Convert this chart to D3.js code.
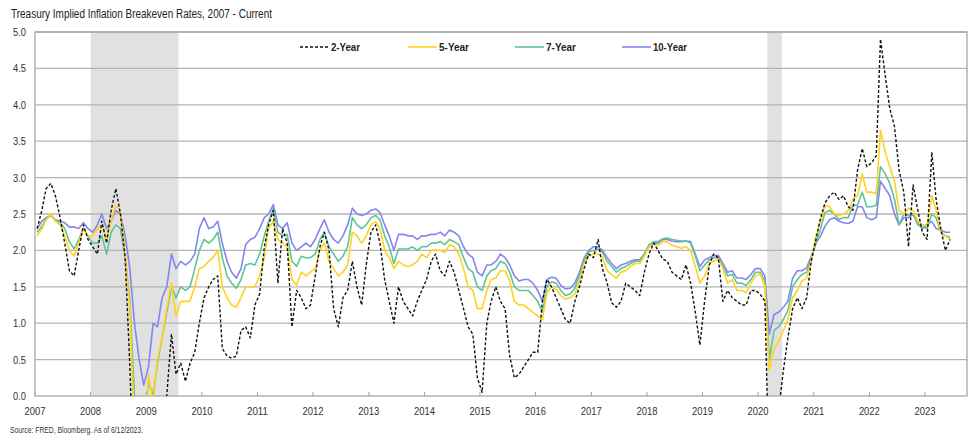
<!DOCTYPE html>
<html>
<head>
<meta charset="utf-8">
<script src="https://cdn.jsdelivr.net/npm/d3@7"></script>
<style>
  body { margin: 0; background: #fff; }
  svg { display: block; font-family: 'Liberation Sans', Arial, sans-serif; }
</style>
</head>
<body>
<div id="chart"></div>
<script>
// monthly values, Jan 2007 - Jun 2023 (one row per year)
const twoYear = [
  2.30, 2.55, 2.85, 2.92, 2.75, 2.45, 2.10, 1.72, 1.65, 2.00, 2.35, 2.15,
  2.05, 1.95, 2.40, 2.10, 2.55, 2.85, 2.50, 1.90, 0.40, -1.50, -3.00, -2.50,
  -2.50, -1.50, -0.80, -0.50, 0.00, 0.85, 0.30, 0.45, 0.20, 0.45, 0.60, 1.00,
  1.35, 1.50, 1.60, 1.65, 0.65, 0.55, 0.52, 0.55, 0.90, 0.95, 0.80, 1.25,
  1.40, 2.05, 2.35, 2.55, 1.55, 2.30, 2.10, 0.95, 1.45, 1.35, 1.20, 1.25,
  1.65, 2.05, 2.25, 2.00, 1.20, 0.95, 1.35, 1.45, 1.85, 1.50, 1.25, 1.80,
  2.25, 2.35, 2.10, 1.60, 1.30, 1.00, 1.50, 1.30, 1.20, 1.10, 1.30, 1.45,
  1.60, 1.85, 1.95, 1.72, 1.65, 1.85, 1.70, 1.45, 1.20, 0.95, 0.85, 0.25,
  0.05, 1.00, 1.30, 1.50, 1.30, 1.20, 0.55, 0.25, 0.30, 0.40, 0.50, 0.60,
  0.60, 1.30, 1.60, 1.50, 1.35, 1.20, 1.05, 1.00, 1.30, 1.50, 1.75, 1.95,
  1.90, 2.15, 1.75, 1.55, 1.28, 1.22, 1.30, 1.55, 1.50, 1.45, 1.38, 1.70,
  1.95, 2.10, 2.00, 1.88, 1.85, 1.70, 1.65, 1.60, 1.80, 1.55, 1.15, 0.70,
  1.30, 1.80, 1.95, 1.90, 1.30, 1.45, 1.35, 1.30, 1.25, 1.25, 1.45, 1.45,
  1.40, 1.30, -1.20, -1.00, -0.20, 0.35, 0.80, 1.20, 1.35, 1.20, 1.35, 1.85,
  2.15, 2.45, 2.65, 2.75, 2.80, 2.70, 2.75, 2.60, 2.55, 3.10, 3.40, 3.15,
  3.20, 3.30, 4.90, 4.40, 3.95, 3.70, 3.10, 2.80, 2.05, 2.90, 2.55, 2.25,
  2.15, 3.35, 2.70, 2.30, 2.00, 2.15
];
const fiveYear = [
  2.20, 2.30, 2.42, 2.50, 2.40, 2.35, 2.20, 2.00, 1.92, 2.10, 2.30, 2.20,
  2.20, 2.30, 2.35, 2.15, 2.40, 2.62, 2.55, 1.95, 1.20, -0.50, -1.50, -1.00,
  0.30, -0.10, 0.50, 0.80, 1.20, 1.55, 1.10, 1.30, 1.30, 1.30, 1.50, 1.75,
  1.78, 1.85, 1.90, 2.00, 1.50, 1.35, 1.25, 1.22, 1.35, 1.50, 1.50, 1.50,
  1.65, 1.90, 2.30, 2.40, 2.15, 2.10, 2.05, 1.60, 1.52, 1.70, 1.65, 1.70,
  1.75, 2.00, 2.10, 1.85, 1.75, 1.65, 1.70, 1.80, 2.25, 2.20, 2.10, 2.20,
  2.35, 2.40, 2.30, 2.00, 1.90, 1.75, 1.85, 1.80, 1.78, 1.80, 1.85, 1.95,
  1.90, 2.00, 2.00, 2.00, 1.97, 2.08, 2.05, 1.95, 1.75, 1.50, 1.45, 1.20,
  1.20, 1.45, 1.60, 1.62, 1.72, 1.72, 1.58, 1.30, 1.25, 1.25, 1.20, 1.15,
  1.10, 1.05, 1.42, 1.50, 1.47, 1.38, 1.33, 1.35, 1.40, 1.57, 1.82, 1.93,
  1.95, 1.95, 1.90, 1.72, 1.67, 1.62, 1.70, 1.72, 1.78, 1.82, 1.82, 1.92,
  2.05, 2.08, 2.07, 2.12, 2.12, 2.07, 2.05, 2.03, 2.05, 2.00, 1.78, 1.55,
  1.65, 1.82, 1.85, 1.88, 1.75, 1.55, 1.60, 1.45, 1.45, 1.42, 1.55, 1.65,
  1.68, 1.50, 0.35, 0.65, 0.75, 0.90, 1.05, 1.35, 1.45, 1.58, 1.62, 1.85,
  2.20, 2.40, 2.62, 2.60, 2.50, 2.48, 2.50, 2.55, 2.70, 2.75, 3.05, 2.80,
  2.80, 2.78, 3.65, 3.35, 3.15, 2.95, 2.55, 2.50, 2.58, 2.55, 2.40, 2.35,
  2.35, 2.75, 2.55, 2.25, 2.20, 2.15
];
const sevenYear = [
  2.25, 2.33, 2.43, 2.48, 2.42, 2.38, 2.30, 2.12, 2.02, 2.15, 2.30, 2.20,
  2.10, 2.10, 2.20, 1.95, 2.25, 2.35, 2.30, 1.90, 1.30, 0.00, -0.80, -0.50,
  0.20, 0.00, 0.45, 0.80, 1.15, 1.50, 1.35, 1.50, 1.45, 1.50, 1.75, 2.00,
  2.15, 2.10, 2.15, 2.25, 1.90, 1.65, 1.55, 1.48, 1.60, 1.80, 1.82, 1.80,
  1.95, 2.20, 2.40, 2.58, 2.25, 2.20, 2.22, 1.85, 1.78, 1.92, 1.90, 1.90,
  1.95, 2.15, 2.25, 2.05, 1.95, 1.85, 1.92, 2.05, 2.45, 2.35, 2.30, 2.35,
  2.45, 2.48, 2.42, 2.20, 2.05, 1.82, 2.02, 2.02, 2.02, 2.05, 2.00, 2.05,
  2.05, 2.10, 2.10, 2.12, 2.08, 2.15, 2.12, 2.08, 1.90, 1.75, 1.70, 1.50,
  1.45, 1.65, 1.72, 1.75, 1.85, 1.82, 1.70, 1.50, 1.45, 1.45, 1.45, 1.38,
  1.30, 1.15, 1.50, 1.57, 1.55, 1.45, 1.38, 1.40, 1.48, 1.65, 1.85, 1.98,
  2.00, 2.02, 1.97, 1.85, 1.78, 1.70, 1.75, 1.78, 1.82, 1.85, 1.85, 1.95,
  2.08, 2.12, 2.12, 2.16, 2.17, 2.15, 2.14, 2.13, 2.13, 2.10, 1.92, 1.72,
  1.80, 1.87, 1.90, 1.90, 1.78, 1.65, 1.67, 1.55, 1.55, 1.52, 1.60, 1.70,
  1.70, 1.58, 0.50, 0.90, 0.95, 1.05, 1.18, 1.50, 1.60, 1.67, 1.70, 1.88,
  2.10, 2.30, 2.52, 2.55, 2.50, 2.42, 2.45, 2.45, 2.62, 2.62, 2.80, 2.60,
  2.60, 2.62, 3.15, 3.05, 2.92, 2.70, 2.35, 2.50, 2.48, 2.50, 2.35, 2.32,
  2.30, 2.50, 2.45, 2.25, 2.20, 2.18
];
const tenYear = [
  2.30, 2.40, 2.45, 2.48, 2.42, 2.40, 2.38, 2.32, 2.32, 2.30, 2.38, 2.30,
  2.25, 2.35, 2.50, 2.30, 2.40, 2.55, 2.50, 2.20, 1.75, 1.00, 0.50, 0.15,
  0.40, 1.00, 0.95, 1.35, 1.50, 1.95, 1.75, 1.85, 1.80, 1.85, 1.95, 2.30,
  2.45, 2.30, 2.32, 2.40, 2.10, 1.85, 1.70, 1.62, 1.75, 2.08, 2.15, 2.18,
  2.30, 2.45, 2.50, 2.63, 2.35, 2.30, 2.38, 2.10, 2.00, 2.05, 2.10, 2.05,
  2.15, 2.30, 2.42, 2.25, 2.15, 2.10, 2.20, 2.35, 2.58, 2.50, 2.48, 2.50,
  2.55, 2.57, 2.52, 2.35, 2.20, 2.00, 2.22, 2.22, 2.20, 2.20, 2.15, 2.20,
  2.20, 2.22, 2.22, 2.25, 2.20, 2.28, 2.25, 2.20, 2.05, 1.95, 1.90, 1.70,
  1.65, 1.80, 1.80, 1.85, 1.95, 1.90, 1.80, 1.65, 1.58, 1.60, 1.60, 1.55,
  1.45, 1.30, 1.60, 1.63, 1.62, 1.52, 1.47, 1.48, 1.55, 1.70, 1.90, 2.00,
  2.05, 2.05, 2.00, 1.90, 1.82, 1.75, 1.80, 1.82, 1.85, 1.87, 1.87, 1.95,
  2.05, 2.10, 2.10, 2.15, 2.15, 2.13, 2.12, 2.12, 2.13, 2.12, 1.95, 1.78,
  1.87, 1.90, 1.93, 1.93, 1.82, 1.70, 1.72, 1.62, 1.62, 1.60, 1.67, 1.75,
  1.75, 1.65, 0.85, 1.12, 1.15, 1.22, 1.30, 1.62, 1.72, 1.72, 1.76, 1.92,
  2.10, 2.20, 2.33, 2.42, 2.45, 2.40, 2.38, 2.37, 2.40, 2.60, 2.60, 2.45,
  2.42, 2.45, 2.95, 2.85, 2.75, 2.50, 2.35, 2.45, 2.45, 2.50, 2.37, 2.30,
  2.35, 2.40, 2.30, 2.28, 2.25, 2.25
];

const seriesNames = ['2-Year', '5-Year', '7-Year', '10-Year'];
const seriesColors = ['#111111', '#ffd21f', '#5fc496', '#8585f0'];
const recessions = [['2008-01-01', '2009-07-31'], ['2020-03-01', '2020-06-06']];
const yTicks = [0, 0.5, 1, 1.5, 2, 2.5, 3, 3.5, 4, 4.5, 5];

const width = 977, height = 437;
const margin = { top: 32, right: 10, bottom: 41, left: 35 };
const innerW = width - margin.left - margin.right;
const innerH = height - margin.top - margin.bottom;

const months = d3.timeMonth.range(new Date(2007, 0, 1), new Date(2023, 6, 1))
    .map(m => d3.timeDay.offset(m, 14));
const allSeries = [twoYear, fiveYear, sevenYear, tenYear];

const svg = d3.select('#chart').append('svg')
    .attr('width', width)
    .attr('height', height);

const x = d3.scaleTime()
    .domain([new Date(2007, 0, 1), new Date(2023, 9, 4)])
    .range([0, innerW]);
const y = d3.scaleLinear().domain([0, 5]).range([innerH, 0]);

// the original uses a narrow face, squeeze the glyphs to match
svg.append('text')
    .attr('x', 11).attr('y', 18)
    .attr('font-size', 12)
    .attr('fill', '#222')
    .attr('textLength', 261)
    .attr('lengthAdjust', 'spacingAndGlyphs')
    .text('Treasury Implied Inflation Breakeven Rates, 2007 - Current');

const g = svg.append('g').attr('transform', `translate(${margin.left},${margin.top})`);

g.append('clipPath').attr('id', 'plot-clip')
  .append('rect').attr('width', innerW).attr('height', innerH);

// recession shading
g.selectAll('.rec')
    .data(recessions)
    .join('rect')
    .attr('x', d => x(new Date(d[0])))
    .attr('width', d => x(new Date(d[1])) - x(new Date(d[0])))
    .attr('y', 0)
    .attr('height', innerH)
    .attr('fill', '#e1e1e1');

// gridlines
g.append('g')
    .selectAll('line')
    .data(yTicks.filter(t => t > 0))
    .join('line')
    .attr('x1', 0).attr('x2', innerW)
    .attr('y1', d => y(d)).attr('y2', d => y(d))
    .attr('stroke', '#b4b4b4')
    .attr('stroke-width', 1.3);

// y axis labels
g.append('g')
    .selectAll('text')
    .data(yTicks)
    .join('text')
    .attr('x', -9)
    .attr('y', d => y(d) + 4)
    .attr('text-anchor', 'end')
    .attr('font-size', 11)
    .attr('fill', '#333')
    .attr('textLength', 13)
    .attr('lengthAdjust', 'spacingAndGlyphs')
    .text(d => d.toFixed(1));

// x axis
const years = d3.timeYear.range(new Date(2007, 0, 1), new Date(2024, 0, 1));
g.append('g')
    .selectAll('line')
    .data(years)
    .join('line')
    .attr('x1', d => x(d)).attr('x2', d => x(d))
    .attr('y1', innerH).attr('y2', innerH - 4)
    .attr('stroke', '#a0a0a0');
g.append('g')
    .selectAll('text')
    .data(years)
    .join('text')
    .attr('x', d => x(d) - 10.5)
    .attr('y', innerH + 19)
    .attr('font-size', 11)
    .attr('fill', '#333')
    .attr('textLength', 21)
    .attr('lengthAdjust', 'spacingAndGlyphs')
    .text(d3.timeFormat('%Y'));

// frame
g.append('rect')
    .attr('width', innerW).attr('height', innerH)
    .attr('fill', 'none')
    .attr('stroke', '#a8a8a8')
    .attr('stroke-width', 1.3);

// lines
const line = d3.line()
    .x(d => x(d.date))
    .y(d => y(d.value));

const lineData = allSeries.map((vals, i) => ({
    name: seriesNames[i],
    color: seriesColors[i],
    values: vals.map((v, j) => ({ date: months[j], value: v }))
}));

const lines = g.append('g').attr('clip-path', 'url(#plot-clip)');
// 10Y, 7Y, 5Y underneath, 2Y dashed on top
[3, 2, 1, 0].forEach(i => {
    const s = lineData[i];
    lines.append('path')
        .datum(s.values)
        .attr('d', line)
        .attr('fill', 'none')
        .attr('stroke', s.color)
        .attr('stroke-width', i === 0 ? 1.4 : 1.6)
        .attr('stroke-dasharray', i === 0 ? '3,2' : null)
        .attr('stroke-linejoin', 'round');
});

// legend
const legendX = [265, 373, 480, 587];
const legendW = [29, 30, 30, 34];
const legend = g.append('g').attr('transform', 'translate(0,15)');
lineData.forEach((s, i) => {
    legend.append('line')
        .attr('x1', legendX[i]).attr('x2', legendX[i] + 29)
        .attr('y1', 0).attr('y2', 0)
        .attr('stroke', s.color)
        .attr('stroke-width', i === 0 ? 1.4 : 1.6)
        .attr('stroke-dasharray', i === 0 ? '3,2' : null);
    legend.append('text')
        .attr('x', legendX[i] + 31)
        .attr('y', 4)
        .attr('font-size', 11)
        .attr('font-weight', 'bold')
        .attr('fill', '#222')
        .attr('textLength', legendW[i])
        .attr('lengthAdjust', 'spacingAndGlyphs')
        .text(s.name);
});

svg.append('text')
    .attr('x', 10).attr('y', 433)
    .attr('font-size', 8.5)
    .attr('fill', '#333')
    .attr('textLength', 133)
    .attr('lengthAdjust', 'spacingAndGlyphs')
    .text('Source: FRED, Bloomberg. As of 6/12/2023.');
</script>
</body>
</html>
